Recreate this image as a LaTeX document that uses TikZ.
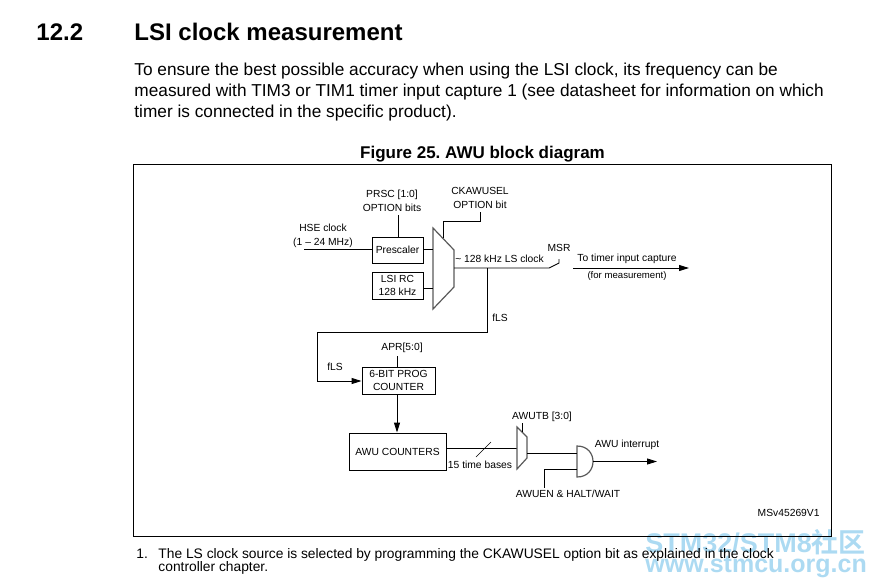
\documentclass[tikz,border=0pt]{standalone}
\usepackage{fontspec}
\setmainfont{Liberation Sans}
\newfontfamily\cjk{Noto Sans CJK SC}[BoldFont={Noto Sans CJK SC Bold}]
\usetikzlibrary{arrows.meta}
\definecolor{wmblue}{RGB}{172,218,242}
\newcommand{\lblfont}{\fontsize{10.3}{13.5}\selectfont}
\frenchspacing

\begin{document}
\begin{tikzpicture}[x=1pt,y=-1pt,line width=0.9pt,
    blk/.style={draw,black,font=\lblfont,align=center},
    lbl/.style={font=\lblfont,align=center},
    body/.style={anchor=base west,font=\fontsize{17.25}{20}\selectfont},
    note/.style={anchor=base west,font=\fontsize{13.8}{14}\selectfont},
    wire/.style={draw,black},
    tipwire/.style={draw,black,-{Triangle[length=10pt,width=6pt]}},
    mux/.style={draw,black!65,line width=1.2pt,line join=miter}]
    \tikzstyle{every node}+=[inner sep=0pt]
    \useasboundingbox (0,0) rectangle (877,587);
    % watermark
    \node[anchor=base west,text=wmblue,font=\fontsize{27}{27}\selectfont\bfseries] (wmtop) at (645,552) {STM32/STM8{\cjk 社区}};
    \node[anchor=base west,text=wmblue,font=\fontsize{25}{25}\selectfont\bfseries] (wmbot) at (645,572) {www.stmcu.org.cn};
    % page text
    \node[anchor=base west,font=\fontsize{24}{24}\selectfont\bfseries] (secnum) at (36,40) {12.2};
    \node[anchor=base west,font=\fontsize{24}{24}\selectfont\bfseries] (sectitle) at (134,40) {LSI clock measurement};
    \node[body] (para1) at (134,75) {To ensure the best possible accuracy when using the LSI clock, its frequency can be};
    \node[body] (para2) at (134,96) {measured with TIM3 or TIM1 timer input capture 1 (see datasheet for information on which};
    \node[body] (para3) at (134,117) {timer is connected in the specific product).};
    \node[anchor=base,font=\fontsize{17}{17}\selectfont\bfseries] (figcap) at (482.5,158) {Figure 25. AWU block diagram};
    \node[note] (notenum) at (136,558) {1.};
    \node[note] (note1) at (158,558) {The LS clock source is selected by programming the CKAWUSEL option bit as explained in the clock};
    \node[note] (note2) at (158,571) {controller chapter.};
    \draw [black] (133,164) rectangle (831,536);
    % upper blocks
    \node[blk,minimum width=51pt,minimum height=26pt] (prescaler) at (397.5,250) {Prescaler};
    \node[blk,minimum width=51pt,minimum height=27pt] (lsirc) at (397.5,285.5) {LSI RC\\128 kHz};
    \coordinate (muxa) at (433,228);
    \coordinate (muxb) at (454,250);
    \coordinate (muxc) at (454,287);
    \coordinate (muxd) at (433,309);
    \draw [mux] (muxa) -- (muxb) -- (muxc) -- (muxd) -- cycle;
    \node[lbl] (prsc) at (392,201) {PRSC [1:0]\\OPTION bits};
    \node[lbl] (ckawusel) at (480,198) {CKAWUSEL\\OPTION bit};
    \node[lbl] (hse) at (323,236) {HSE clock\\(1 -- 24 MHz)};
    \node[lbl] (lsclock) at (499.5,259) {\textasciitilde{} 128 kHz LS clock};
    \node[lbl] (msr) at (559,248) {MSR};
    \node[lbl] (totimer) at (627,259) {To timer input capture};
    \node[lbl,font=\fontsize{9.6}{12}\selectfont] (formeas) at (627,276) {(for measurement)};
    \node[lbl] (flsa) at (500,318) {fLS};
    \coordinate (hsein) at (304,249);
    \coordinate (preout) at (433,249);
    \coordinate (lsiout) at (433,288);
    \coordinate (ckdown) at (480,212);
    \coordinate (ckmid) at (480,221);
    \coordinate (ckleft) at (443,221);
    \coordinate (cksel) at (443,238);
    \coordinate (prtop) at (398,215);
    \coordinate (prbot) at (398,237);
    \coordinate (muxout) at (454,268);
    \coordinate (swa) at (549,268);
    \coordinate (swb) at (559,263);
    \coordinate (swc) at (559,259);
    \coordinate (capa) at (573,268);
    \coordinate (capb) at (689,268);
    \coordinate (fork) at (487,268);
    \coordinate (turna) at (487,332);
    \coordinate (turnb) at (317,332);
    \coordinate (turnc) at (317,381);
    \draw [wire] (hsein) -- (hsein -| prescaler.west);
    \draw [wire] (preout -| prescaler.east) -- (preout);
    \draw [wire] (lsiout -| lsirc.east) -- (lsiout);
    \draw [wire] (prtop) -- (prbot);
    \draw [wire] (ckdown) -- (ckmid) -- (ckleft) -- (cksel);
    \draw [wire] (muxout) -- (swa) -- (swb) -- (swc);
    \draw [tipwire] (capa) -- (capb);
    % lower blocks
    \node[blk,minimum width=73pt,minimum height=27pt] (progcnt) at (398.5,380.5) {6-BIT PROG\\COUNTER};
    \node[blk,minimum width=97pt,minimum height=37pt] (awucnt) at (397.5,451.5) {AWU COUNTERS};
    \draw [wire] (fork) -- (turna) -- (turnb) -- (turnc);
    \draw [tipwire] (turnc) -- (turnc -| progcnt.west);
    \node[lbl] (apr) at (402,348) {APR[5:0]};
    \node[lbl] (flsb) at (335,367) {fLS};
    \coordinate (aprtop) at (397,356);
    \draw [wire] (aprtop) -- (aprtop |- progcnt.north);
    \draw [tipwire] (progcnt.south -| aprtop) -- (awucnt.north -| aprtop);
    \coordinate (tbin) at (517,448);
    \coordinate (slasha) at (476,457);
    \coordinate (slashb) at (491,442);
    \draw [wire] (tbin -| awucnt.east) -- (tbin);
    \draw [black,line width=0.6pt] (slasha) -- (slashb);
    \coordinate (sela) at (517,427);
    \coordinate (selb) at (527,437);
    \coordinate (selc) at (527,458);
    \coordinate (seld) at (517,469);
    \draw [mux] (sela) -- (selb) -- (selc) -- (seld) -- cycle;
    \coordinate (awutbtop) at (522,423);
    \coordinate (awutbbot) at (522,432);
    \draw [wire] (awutbtop) -- (awutbbot);
    \node[lbl] (awutb) at (542,417) {AWUTB [3:0]};
    \node[lbl] (timebases) at (480,465) {15 time bases};
    % and gate
    \coordinate (anda) at (577,446);
    \coordinate (andb) at (593,461.5);
    \coordinate (andc) at (577,477);
    \draw [mux] (anda) .. controls (588,446) and (593,454) .. (andb) .. controls (593,469) and (588,477) .. (andc) -- cycle;
    \coordinate (selout) at (527,453);
    \coordinate (enin) at (577,469);
    \coordinate (enmid) at (544,469);
    \coordinate (enbot) at (544,488);
    \coordinate (irq) at (657,461.5);
    \draw [wire] (selout) -- (selout -| anda);
    \draw [wire] (enin) -- (enmid) -- (enbot);
    \draw [tipwire] (andb) -- (irq);
    \node[lbl] (awuirq) at (627,445) {AWU interrupt};
    \node[lbl] (awuen) at (568,494) {AWUEN \& HALT/WAIT};
    \node[lbl,anchor=east] (msv) at (820,513) {MSv45269V1};
\end{tikzpicture}
\end{document}
